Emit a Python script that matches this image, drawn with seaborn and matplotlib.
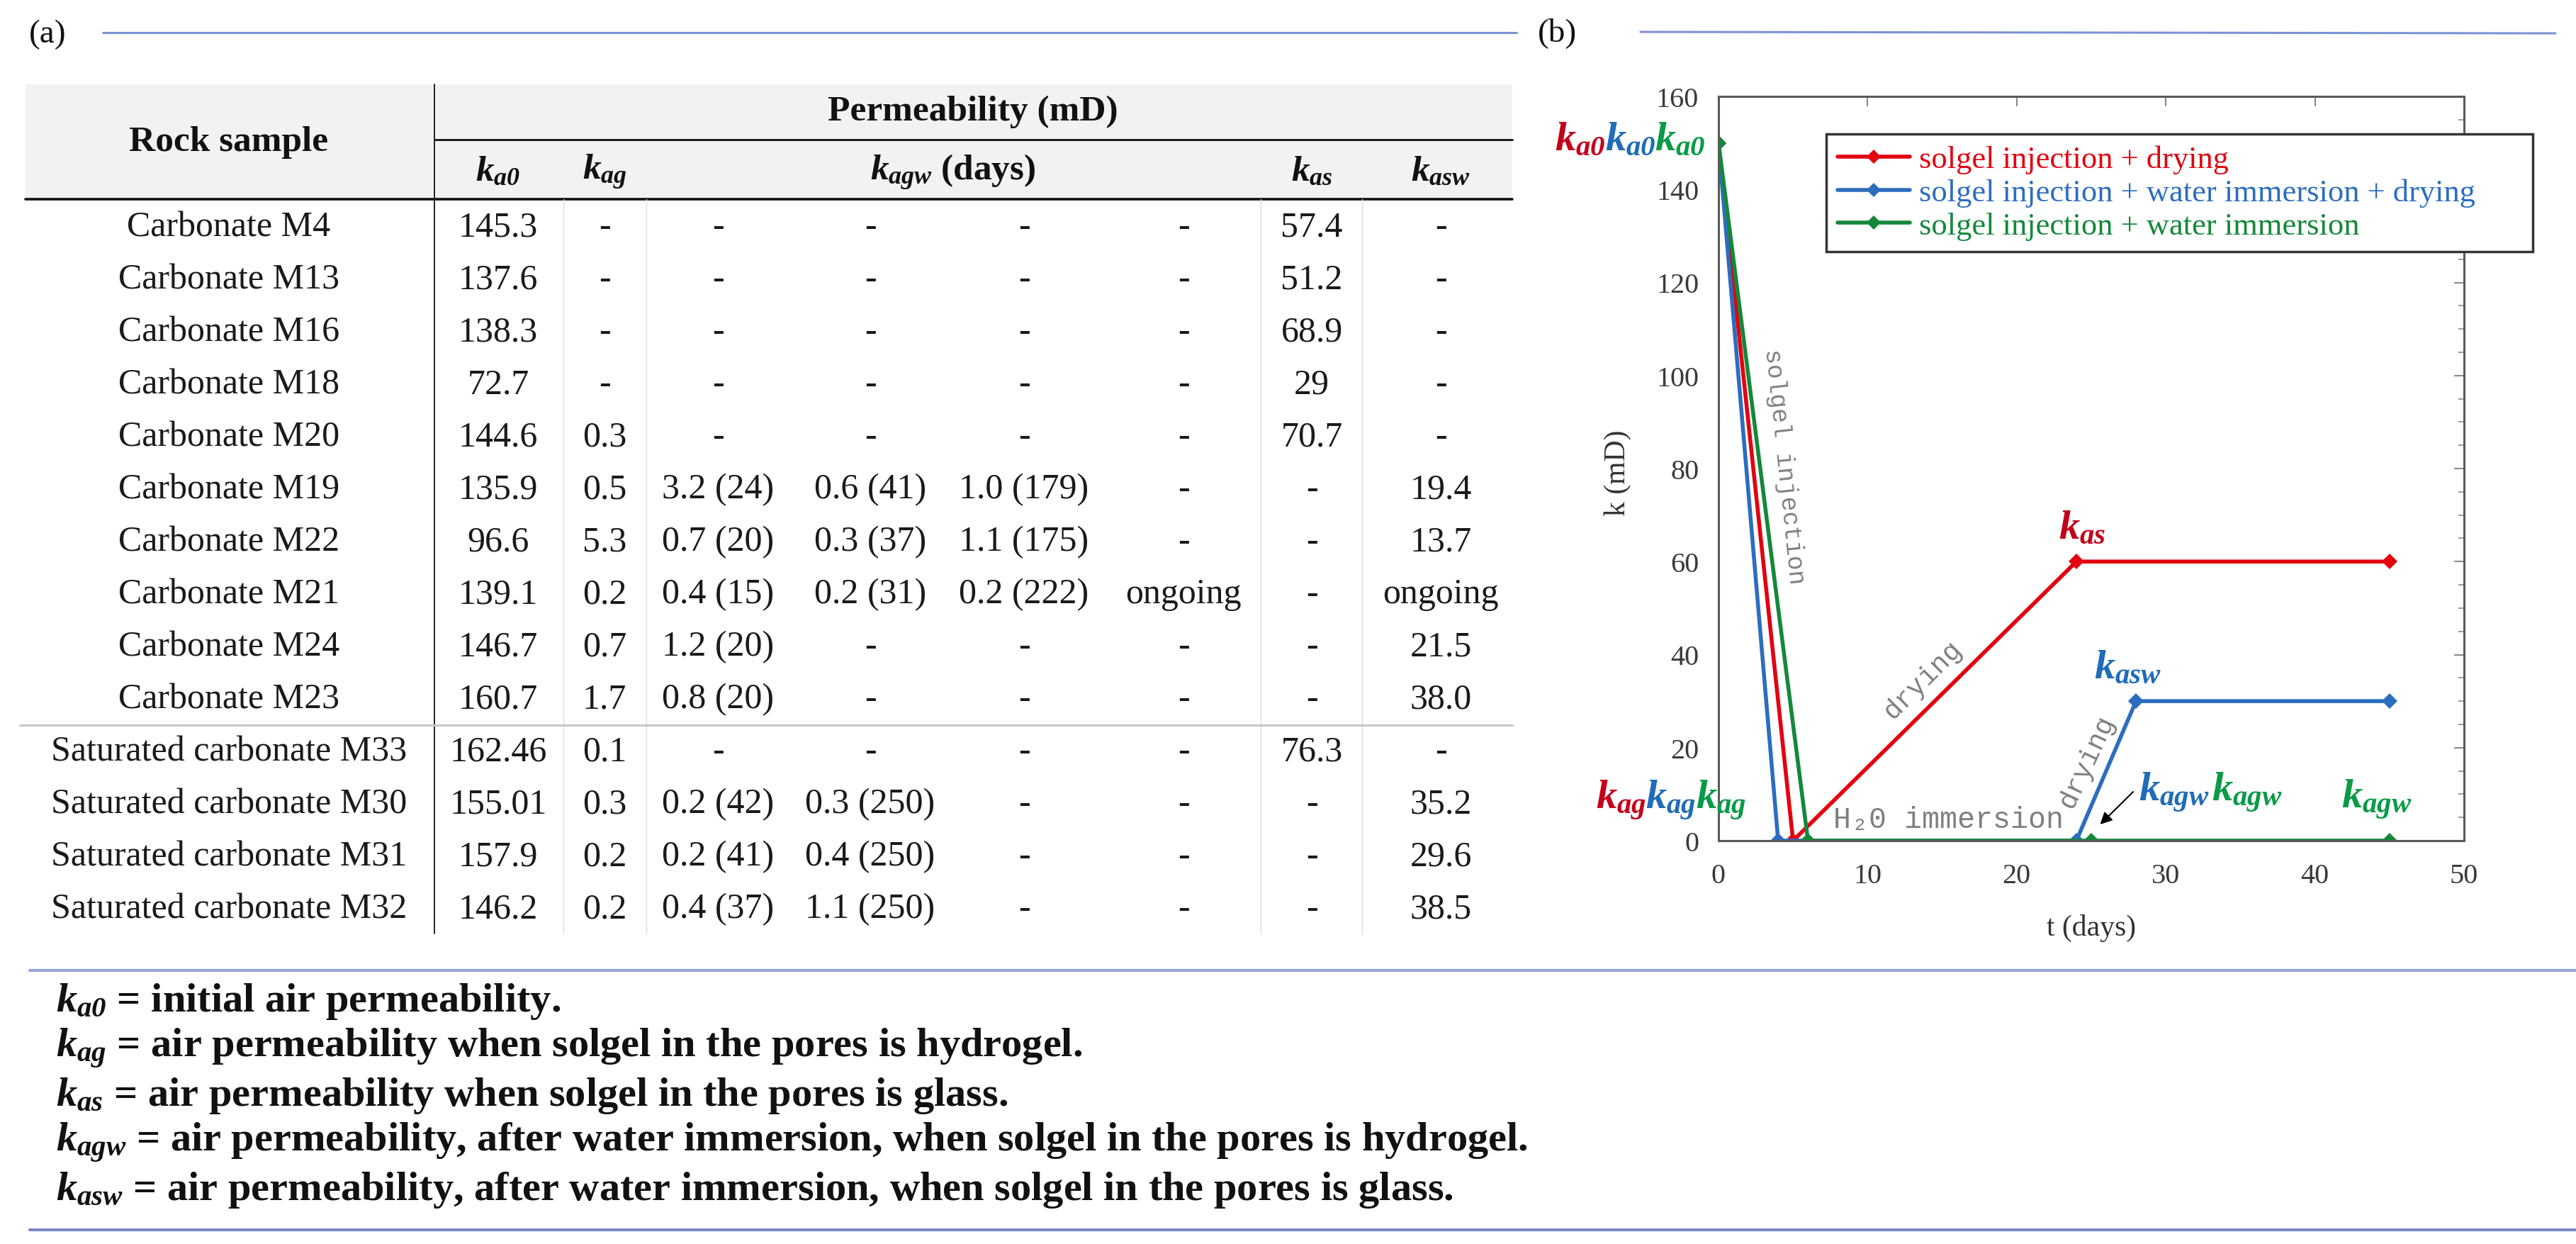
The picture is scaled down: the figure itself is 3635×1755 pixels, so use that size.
import matplotlib
matplotlib.use("Agg")
import matplotlib.pyplot as plt
import seaborn as sns
import pandas as pd
from matplotlib.patches import Rectangle
from matplotlib.lines import Line2D
from matplotlib.ticker import MultipleLocator

# ---------------- table data ----------------
samples = ["Carbonate M4", "Carbonate M13", "Carbonate M16", "Carbonate M18",
           "Carbonate M20", "Carbonate M19", "Carbonate M22", "Carbonate M21",
           "Carbonate M24", "Carbonate M23", "Saturated carbonate M33",
           "Saturated carbonate M30", "Saturated carbonate M31",
           "Saturated carbonate M32"]
k_a0 = ["145.3", "137.6", "138.3", "72.7", "144.6", "135.9", "96.6", "139.1",
        "146.7", "160.7", "162.46", "155.01", "157.9", "146.2"]
k_ag = ["-", "-", "-", "-", "0.3", "0.5", "5.3", "0.2", "0.7", "1.7", "0.1",
        "0.3", "0.2", "0.2"]
k_agw_1 = ["-", "-", "-", "-", "-", "3.2 (24)", "0.7 (20)", "0.4 (15)",
           "1.2 (20)", "0.8 (20)", "-", "0.2 (42)", "0.2 (41)", "0.4 (37)"]
k_agw_2 = ["-", "-", "-", "-", "-", "0.6 (41)", "0.3 (37)", "0.2 (31)", "-",
           "-", "-", "0.3 (250)", "0.4 (250)", "1.1 (250)"]
k_agw_3 = ["-", "-", "-", "-", "-", "1.0 (179)", "1.1 (175)", "0.2 (222)",
           "-", "-", "-", "-", "-", "-"]
k_agw_4 = ["-", "-", "-", "-", "-", "-", "-", "ongoing", "-", "-", "-", "-",
           "-", "-"]
k_as = ["57.4", "51.2", "68.9", "29", "70.7", "-", "-", "-", "-", "-", "76.3",
        "-", "-", "-"]
k_asw = ["-", "-", "-", "-", "-", "19.4", "13.7", "ongoing", "21.5", "38.0",
         "-", "35.2", "29.6", "38.5"]

footnotes = [
    r"$k_{a0}$ = initial air permeability.",
    r"$k_{ag}$ = air permeability when solgel in the pores is hydrogel.",
    r"$k_{as}$ = air permeability when solgel in the pores is glass.",
    r"$k_{agw}$ = air permeability, after water immersion, when solgel in the pores is hydrogel.",
    r"$k_{asw}$ = air permeability, after water immersion, when solgel in the pores is glass.",
]

# ---------------- chart data ----------------
t_dry = [0, 5, 24, 45]
k_dry = [150, 0, 60, 60]
t_wet_dry = [0, 4, 24, 28, 45]
k_wet_dry = [150, 0, 0, 30, 30]
t_wet = [0, 6, 25, 45]
k_wet = [150, 0, 0, 0]
series_names = ["solgel injection + drying",
                "solgel injection + water immersion + drying",
                "solgel injection + water immersion"]
line_colors = ["#e3000f", "#2c6dbf", "#14883a"]
text_colors = ["#c4001a", "#1f6cb8", "#0b9a48"]

sns.set_theme(style="white")
plt.rcParams["font.family"] = ["Liberation Serif", "DejaVu Serif"]
plt.rcParams["mathtext.fontset"] = "custom"
plt.rcParams["mathtext.it"] = "Liberation Serif:italic:bold"
plt.rcParams["mathtext.rm"] = "Liberation Serif:italic:bold"
plt.rcParams["mathtext.bf"] = "Liberation Serif:italic:bold"

W, H = 3635, 1756
fig = plt.figure(figsize=(W / 100, H / 100), dpi=100)
fig.patch.set_facecolor("white")

# overlay in pixel coordinates for the table / frame decorations
ov = fig.add_axes([0, 0, 1, 1])
ov.set_xlim(0, W)
ov.set_ylim(H, 0)
ov.axis("off")

rule_col = "#7b93d3"
ov.text(67, 49, "(a)", fontsize=34, ha="center", va="center", color="#111111")
ov.text(2197, 47, "(b)", fontsize=34, ha="center", va="center", color="#111111")
ov.plot([145, 2140], [47, 47], color=rule_col, lw=2.2)
ov.plot([2315, 3606], [46, 48], color=rule_col, lw=2.2)
ov.plot([42, W], [1370, 1370], color="#95a6dc", lw=3)
ov.plot([42, W], [1736, 1736], color="#7d88c9", lw=3)

# ---- table ----
tbl_left, tbl_right = 36, 2134
head_top, head_mid, head_bot = 120, 198, 282
tbl_bottom = 1318
row_y0, row_h = 321, 74
col_x = [323, 703, 853, 1013, 1228, 1445, 1670, 1851, 2033]
columns = [samples, k_a0, k_ag, k_agw_1, k_agw_2, k_agw_3, k_agw_4, k_as, k_asw]

ov.add_patch(Rectangle((tbl_left, head_top), tbl_right - tbl_left,
                       head_bot - head_top, fc="#f2f2f2", ec="none"))
ov.plot([613, tbl_right], [head_mid, head_mid], color="#111111", lw=2)
ov.plot([tbl_left, tbl_right], [head_bot, head_bot], color="#111111", lw=2.6)
ov.plot([613, 613], [head_top, tbl_bottom], color="#222222", lw=1.4)
for xv in [795, 912, 1779, 1922]:
    ov.plot([xv, xv], [head_bot, tbl_bottom], color="#dddddd", lw=1)
sep_y = row_y0 + 9.5 * row_h
ov.plot([28, tbl_right], [sep_y, sep_y], color="#c8c8c8", lw=2.2)

hfs = 37
ov.text(col_x[0], 201, "Rock sample", fontsize=hfs, fontweight="bold",
        ha="center", va="center", color="#111111")
ov.text(1373, 158, "Permeability (mD)", fontsize=hfs, fontweight="bold",
        ha="center", va="center", color="#111111")
sub_heads = [(col_x[1], r"$k_{a0}$"), (col_x[2], r"$k_{ag}$"),
             (1345, r"$k_{agw}$ (days)"), (col_x[7], r"$k_{as}$"),
             (col_x[8], r"$k_{asw}$")]
for xv, lab in sub_heads:
    ov.text(xv, 243, lab, fontsize=hfs, fontweight="bold", ha="center",
            va="center", color="#111111")

for ci, col in enumerate(columns):
    for ri, val in enumerate(col):
        ov.text(col_x[ci], row_y0 + ri * row_h, val, fontsize=36,
                ha="center", va="center", color="#1a1a1a")

# ---- footnotes ----
for i, note in enumerate(footnotes):
    ov.text(79, 1413 + i * 66.5, note, fontsize=42, fontweight="bold",
            ha="left", va="center", color="#111111")

# ---------------- chart ----------------
ax = fig.add_axes([2425 / W, 1 - 1187 / H, (3477 - 2425) / W, (1187 - 137) / H])
df = pd.concat([
    pd.DataFrame({"t": t_dry, "k": k_dry, "series": series_names[0]}),
    pd.DataFrame({"t": t_wet_dry, "k": k_wet_dry, "series": series_names[1]}),
    pd.DataFrame({"t": t_wet, "k": k_wet, "series": series_names[2]}),
], ignore_index=True)
sns.lineplot(data=df, x="t", y="k", hue="series", hue_order=series_names,
             palette=dict(zip(series_names, line_colors)), marker="D",
             markersize=11, markeredgewidth=0, linewidth=4, sort=False,
             estimator=None, legend=False, ax=ax)

ax.set_xlim(0, 50)
ax.set_ylim(0, 160)
ax.xaxis.set_major_locator(MultipleLocator(10))
ax.yaxis.set_major_locator(MultipleLocator(20))
ax.yaxis.set_minor_locator(MultipleLocator(5))
ax.tick_params(which="both", direction="in", top=True, right=True,
               color="#8a8a8a", labelsize=29, labelcolor="#3a3a3a")
ax.tick_params(which="major", length=10, width=1.5)
ax.tick_params(which="minor", length=6, width=1.2)
ax.tick_params(axis="y", pad=20)
ax.tick_params(axis="x", pad=22)
for sp in ax.spines.values():
    sp.set_color("#5a5a5a")
    sp.set_linewidth(2.2)

ax.set_xlabel("t (days)", fontsize=30, color="#333333")
ax.set_ylabel("k (mD)", fontsize=30, color="#333333")
ax.xaxis.set_label_coords(0.5, -0.098)
ax.yaxis.set_label_coords(-0.117, 0.495)

handles = [Line2D([0], [0], color=c, lw=4, marker="D", ms=10, mew=0)
           for c in line_colors]
leg = ax.legend(handles, series_names, loc="upper left",
                bbox_to_anchor=(0.1445, 0.763, 0.9475, 0.1865), mode="expand",
                borderaxespad=0, fontsize=32, labelcolor="linecolor",
                frameon=True, fancybox=False, framealpha=1, edgecolor="#333333",
                handlelength=2.3, handletextpad=0.3, labelspacing=0.15,
                borderpad=0.35)
leg.get_frame().set_linewidth(2.5)

# colored k annotations
ann_fs = 42
for xv, c in zip([-11.0, -7.6, -4.3], text_colors):
    ax.text(xv, 148.5, r"$k_{a0}$", color=c, fontsize=ann_fs, clip_on=False)
for xv, c in zip([-8.2, -4.9, -1.5], text_colors):
    ax.text(xv, 7.0, r"$k_{ag}$", color=c, fontsize=ann_fs, clip_on=False)
ax.text(22.8, 65, r"$k_{as}$", color=text_colors[0], fontsize=ann_fs)
ax.text(25.2, 35, r"$k_{asw}$", color=text_colors[1], fontsize=ann_fs)
ax.text(28.2, 8.7, r"$k_{agw}$", color=text_colors[1], fontsize=ann_fs)
ax.text(33.1, 8.7, r"$k_{agw}$", color=text_colors[2], fontsize=ann_fs)
ax.text(41.8, 7.2, r"$k_{agw}$", color=text_colors[2], fontsize=ann_fs)

ax.annotate("", xy=(25.5, 3.2), xytext=(27.9, 10.8),
            arrowprops=dict(arrowstyle="-|>", color="black", lw=1.5,
                            mutation_scale=25))

mono = ["Liberation Mono", "DejaVu Sans Mono"]
ax.text(4.4, 80.5, "solgel injection", family=mono, fontsize=25,
        color="#7f7f7f", rotation=-84, rotation_mode="anchor",
        ha="center", va="center")
ax.text(13.7, 34.7, "drying", family=mono, fontsize=28, color="#7f7f7f",
        rotation=45, rotation_mode="anchor", ha="center", va="center")
ax.text(24.7, 17.1, "drying", family=mono, fontsize=28, color="#7f7f7f",
        rotation=65, rotation_mode="anchor", ha="center", va="center")
ax.text(15.4, 4.6, "H\u20820 immersion", family=mono, fontsize=30,
        color="#7f7f7f", ha="center", va="center")

fig.savefig("out.png", dpi=100, facecolor="white")
